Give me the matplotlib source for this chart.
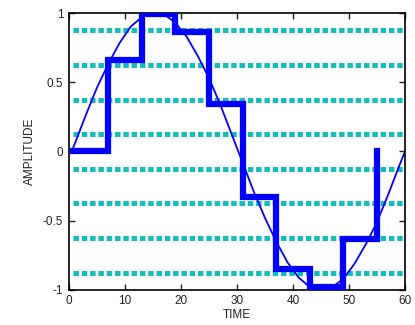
from matplotlib import pyplot as plt
import matplotlib

matplotlib.rc("font", family=["Liberation Sans", "DejaVu Sans"], size=8.5)

# 正弦曲线
t_sine = [0.5, 1, 3, 5, 7, 9, 11, 13, 15, 17, 19, 21, 23, 25, 27, 29, 31, 33,
          35, 37, 39, 41, 43, 45, 47, 49, 51, 53, 55, 57, 59, 60]
v_sine = [0.0, 0.05, 0.26, 0.46, 0.63, 0.78, 0.90, 0.97, 1.00, 0.99, 0.93,
          0.83, 0.69, 0.53, 0.34, 0.13, -0.08, -0.29, -0.48, -0.65, -0.80,
          -0.91, -0.98, -1.00, -0.98, -0.92, -0.81, -0.67, -0.51, -0.31,
          -0.10, 0.0]

# 采样保持后的阶梯信号
t_step = [0.8, 7, 13, 19, 25, 31, 37, 43, 49, 55]
v_step = [0, 0.66, 0.99, 0.86, 0.34, -0.33, -0.85, -0.98, -0.63, 0]

# 量化电平
levels = [0.875, 0.625, 0.375, 0.125, -0.125, -0.375, -0.625, -0.875]

fig = plt.figure(figsize=(4.15, 3.25), dpi=100)
ax = fig.add_axes([0.166, 0.108, 0.810, 0.852])

for lv in levels:
    ax.plot([0.7, 60], [lv, lv], color="#14BDBD", linewidth=3.6,
            linestyle=(0, (1.1, 0.56)), dash_capstyle="butt", zorder=1)

ax.plot(t_sine, v_sine, color="#0000FF", linewidth=1.3, zorder=2)
ax.plot(t_step, v_step, color="#0000FF", linewidth=4.5,
        drawstyle="steps-post", solid_joinstyle="miter", zorder=3)

ax.set_xlim(0, 60)
ax.set_ylim(-1, 1)
ax.set_xticks(range(0, 61, 10))
ax.set_yticks([-1, -0.5, 0, 0.5, 1])
ax.set_yticklabels(["-1", "-0.5", "0", "0.5", "1"])
ax.tick_params(direction="in", length=4, width=1, top=True, right=True,
               colors="#222222", labelsize=8.5, pad=4)
for s in ax.spines.values():
    s.set_linewidth(1.2)
    s.set_color("black")

ax.set_xlabel("TIME", fontsize=8.5, labelpad=1, color="#222222")
ax.set_ylabel("AMPLITUDE", fontsize=8.5, labelpad=5, color="#222222")

plt.savefig("out.png", dpi=100)
